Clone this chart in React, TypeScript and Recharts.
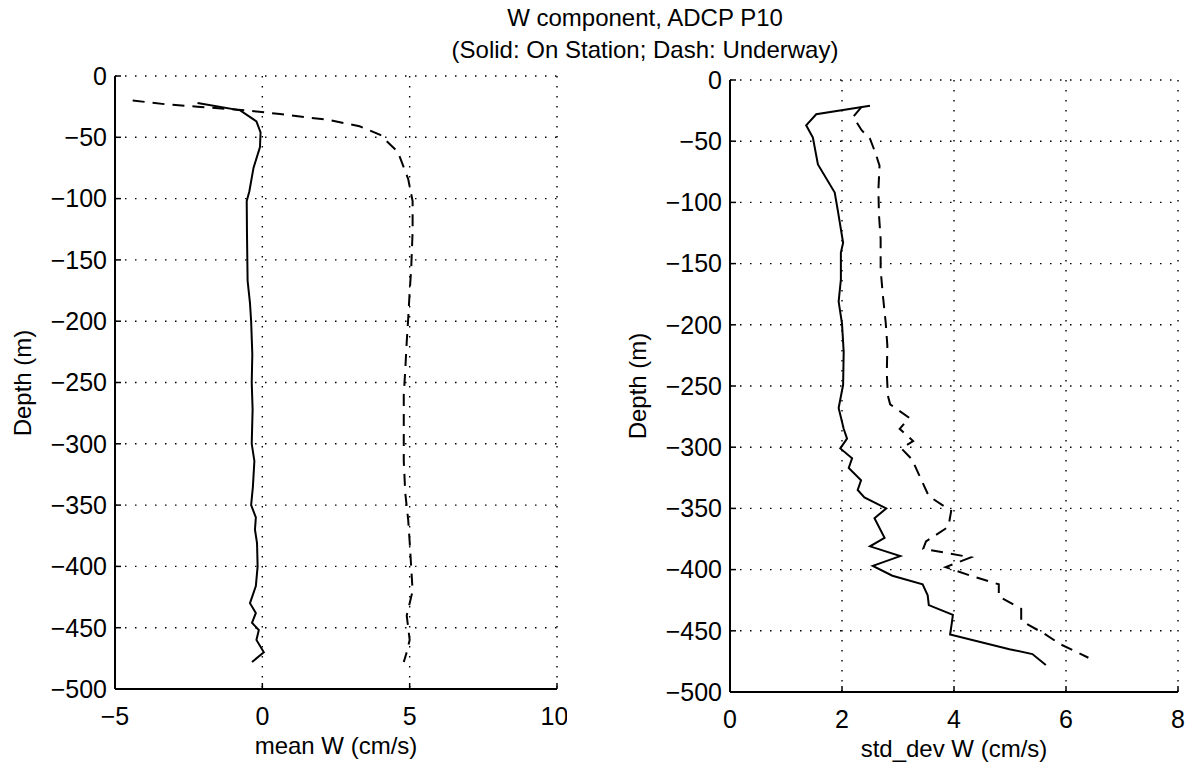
import React from 'react'
import { LineChart, Line, XAxis, YAxis, CartesianGrid } from 'recharts'

// ============================================
// W component, ADCP P10 - depth profiles
// ============================================

const FONT = '"Liberation Sans", Arial, Helvetica, sans-serif'

const depthTicks = [0, -50, -100, -150, -200, -250, -300, -350, -400, -450, -500]
const meanTicks = [-5, 0, 5, 10]
const stdTicks = [0, 2, 4, 6, 8]

// mean W, on station (solid)
const meanStationDepth = [-22, -28, -37, -46, -58, -75, -94, -102, -130, -167, -185, -200, -227, -250, -272, -300, -314, -335, -350, -360, -370, -381, -400, -416, -430, -438, -446, -452, -460, -470, -478]
const meanStationW = [-2.2, -0.75, -0.2, -0.06, -0.08, -0.3, -0.44, -0.53, -0.52, -0.5, -0.42, -0.38, -0.34, -0.36, -0.33, -0.36, -0.27, -0.32, -0.38, -0.22, -0.25, -0.18, -0.16, -0.22, -0.42, -0.22, -0.35, -0.12, -0.2, 0.05, -0.35]

// mean W, underway (dash)
const meanUnderwayDepth = [-20, -23, -25, -28, -31, -36, -41, -48, -62, -84, -102, -127, -158, -176, -198, -217, -240, -260, -290, -314, -340, -362, -380, -400, -420, -440, -460, -470, -478]
const meanUnderwayW = [-4.4, -3.3, -2.2, -0.6, 0.6, 2.3, 3.3, 4.0, 4.6, 4.95, 5.1, 5.1, 5.05, 5.0, 4.95, 4.9, 4.85, 4.8, 4.8, 4.8, 4.85, 4.95, 5.0, 5.05, 5.1, 4.9, 5.0, 4.9, 4.8]

// std_dev W, on station (solid)
const stdStationDepth = [-21, -28, -37, -47, -69, -92, -108, -133, -141, -163, -181, -199, -222, -249, -268, -285, -293, -301, -309, -317, -327, -335, -341, -350, -358, -374, -381, -389, -397, -405, -412, -421, -429, -437, -444, -453, -465, -469, -478]
const stdStationW = [2.5, 1.54, 1.36, 1.48, 1.57, 1.87, 1.93, 2.02, 1.98, 1.98, 1.94, 2.0, 2.03, 2.02, 1.94, 2.03, 2.09, 1.97, 2.18, 2.12, 2.34, 2.28, 2.4, 2.79, 2.58, 2.76, 2.5, 3.04, 2.55, 2.9, 3.44, 3.53, 3.55, 3.98, 3.96, 3.93, 4.99, 5.4, 5.64]

// std_dev W, underway (dash)
const stdUnderwayDepth = [-22, -30, -41, -48, -60, -70, -90, -110, -130, -155, -176, -198, -217, -240, -258, -265, -276, -285, -295, -301, -310, -323, -340, -352, -365, -377, -383, -390, -398, -405, -412, -422, -432, -442, -452, -461, -472]
const stdUnderwayW = [2.35, 2.2, 2.35, 2.5, 2.6, 2.67, 2.65, 2.66, 2.69, 2.69, 2.73, 2.78, 2.81, 2.8, 2.82, 2.86, 3.2, 3.03, 3.27, 3.06, 3.25, 3.38, 3.55, 3.95, 3.9, 3.5, 3.45, 4.3, 3.85, 4.3, 4.8, 4.8, 5.2, 5.2, 5.6, 5.9, 6.4]

const zip = (xs: number[], ds: number[]) => xs.map((x, i) => ({ x, d: ds[i] }))

const minus = (v: number) => String(v).replace('-', '\u2212')

const tickStyle = { fill: '#000', fontSize: 25, fontFamily: FONT }
const axisLine = { stroke: '#000', strokeWidth: 2 }
const tickLine = { stroke: '#000', strokeWidth: 1.5 }

interface Box { l: number; t: number; r: number; b: number }

interface PanelProps {
  box: Box
  xDomain: [number, number]
  xTicks: number[]
  solid: { x: number; d: number }[]
  dashed: { x: number; d: number }[]
  xLabel: string
}

function Panel({ box, xDomain, xTicks, solid, dashed, xLabel }: PanelProps) {
  const left = box.l - 110
  const width = box.r - box.l + 120
  const height = box.b + 40
  return (
    <>
      <div style={{ position: 'absolute', left, top: 0 }}>
        <LineChart width={width} height={height} margin={{ top: box.t, right: 10, left: 10, bottom: 0 }}>
          <CartesianGrid stroke="#000" strokeWidth={1.4} strokeDasharray="1.5 8.5" />
          <XAxis
            type="number"
            dataKey="x"
            domain={xDomain}
            ticks={xTicks}
            allowDataOverflow
            height={40}
            tickSize={-6}
            tickMargin={24}
            tick={tickStyle}
            tickFormatter={minus}
            axisLine={axisLine}
            tickLine={tickLine}
          />
          <XAxis
            xAxisId="top"
            orientation="top"
            type="number"
            domain={xDomain}
            ticks={xTicks}
            height={0}
            tickSize={-6}
            tick={false}
            axisLine={axisLine}
            tickLine={tickLine}
          />
          <YAxis
            type="number"
            domain={[-500, 0]}
            ticks={depthTicks}
            allowDataOverflow
            width={100}
            tickSize={-6}
            tickMargin={14}
            tick={tickStyle}
            tickFormatter={minus}
            axisLine={axisLine}
            tickLine={tickLine}
          />
          <YAxis
            yAxisId="right"
            orientation="right"
            type="number"
            domain={[-500, 0]}
            ticks={depthTicks}
            width={0}
            tickSize={-6}
            tick={false}
            axisLine={axisLine}
            tickLine={tickLine}
          />
          <Line data={solid} dataKey="d" type="linear" stroke="#000" strokeWidth={2} dot={false} isAnimationActive={false} />
          <Line data={dashed} dataKey="d" type="linear" stroke="#000" strokeWidth={2} strokeDasharray="12 8" dot={false} isAnimationActive={false} />
        </LineChart>
      </div>
      <div
        style={{
          position: 'absolute',
          left: (box.l + box.r) / 2 - 150,
          top: box.b + 43,
          width: 300,
          textAlign: 'center',
          fontSize: 24,
          lineHeight: '28px',
          fontFamily: FONT,
        }}
      >
        {xLabel}
      </div>
      <div
        style={{
          position: 'absolute',
          left: box.l - 242,
          top: (box.t + box.b) / 2 - 14,
          width: 300,
          textAlign: 'center',
          fontSize: 24,
          lineHeight: '28px',
          fontFamily: FONT,
          transform: 'rotate(-90deg)',
        }}
      >
        Depth (m)
      </div>
    </>
  )
}

export default function App() {
  return (
    <div style={{ position: 'absolute', left: 0, top: 0, width: 1188, height: 770, background: '#fff', overflow: 'hidden' }}>
      <div
        style={{
          position: 'absolute',
          left: 345,
          top: 2,
          width: 600,
          textAlign: 'center',
          fontSize: 24,
          lineHeight: '32px',
          fontFamily: FONT,
        }}
      >
        W component, ADCP P10
        <br />
        (Solid: On Station; Dash: Underway)
      </div>
      <Panel
        box={{ l: 115, t: 76, r: 557, b: 689 }}
        xDomain={[-5, 10]}
        xTicks={meanTicks}
        solid={zip(meanStationW, meanStationDepth)}
        dashed={zip(meanUnderwayW, meanUnderwayDepth)}
        xLabel="mean W (cm/s)"
      />
      <Panel
        box={{ l: 730, t: 80, r: 1178, b: 692 }}
        xDomain={[0, 8]}
        xTicks={stdTicks}
        solid={zip(stdStationW, stdStationDepth)}
        dashed={zip(stdUnderwayW, stdUnderwayDepth)}
        xLabel="std_dev W (cm/s)"
      />
    </div>
  )
}
